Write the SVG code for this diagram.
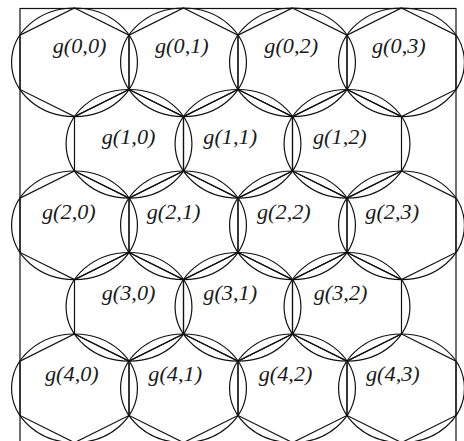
<svg xmlns="http://www.w3.org/2000/svg" xmlns:xlink="http://www.w3.org/1999/xlink" width="464" height="441" viewBox="0 0 464 441">
<style>
.sh{fill:none;stroke:#111;stroke-width:1.2}
.lb{font-family:"Liberation Serif","Times New Roman",serif;font-style:italic;font-size:21px;fill:#1a1a1a}
</style>
<defs>
<g id="cell">
<ellipse class="sh" cx="0" cy="0" rx="62.93" ry="54.3"/>
<polygon class="sh" points="0,-54.3 54.5,-27.15 54.5,27.15 0,54.3 -54.5,27.15 -54.5,-27.15"/>
</g>
</defs>
<rect width="464" height="441" fill="#fff"/>
<rect id="frame" class="sh" x="20" y="8.5" width="436" height="460"/>
<g id="g00"><use xlink:href="#cell" x="74.5" y="62.3"/><text class="lb" transform="translate(52.7,52.5) scale(1.06,1)">g(0,0)</text></g>
<g id="g01"><use xlink:href="#cell" x="183.5" y="62.3"/><text class="lb" transform="translate(155,52.5) scale(1.06,1)">g(0,1)</text></g>
<g id="g02"><use xlink:href="#cell" x="292.5" y="62.3"/><text class="lb" transform="translate(264.3,52.5) scale(1.06,1)">g(0,2)</text></g>
<g id="g03"><use xlink:href="#cell" x="401.5" y="62.3"/><text class="lb" transform="translate(372,52.5) scale(1.06,1)">g(0,3)</text></g>
<g id="g10"><use xlink:href="#cell" x="129" y="143.8"/><text class="lb" transform="translate(101.7,143.5) scale(1.06,1)">g(1,0)</text></g>
<g id="g11"><use xlink:href="#cell" x="238" y="143.8"/><text class="lb" transform="translate(203.3,143.5) scale(1.06,1)">g(1,1)</text></g>
<g id="g12"><use xlink:href="#cell" x="347" y="143.8"/><text class="lb" transform="translate(313,143.5) scale(1.06,1)">g(1,2)</text></g>
<g id="g20"><use xlink:href="#cell" x="74.5" y="225.3"/><text class="lb" transform="translate(42,218.5) scale(1.06,1)">g(2,0)</text></g>
<g id="g21"><use xlink:href="#cell" x="183.5" y="225.3"/><text class="lb" transform="translate(146.7,218.5) scale(1.06,1)">g(2,1)</text></g>
<g id="g22"><use xlink:href="#cell" x="292.5" y="225.3"/><text class="lb" transform="translate(257,218.5) scale(1.06,1)">g(2,2)</text></g>
<g id="g23"><use xlink:href="#cell" x="401.5" y="225.3"/><text class="lb" transform="translate(365.3,218.5) scale(1.06,1)">g(2,3)</text></g>
<g id="g30"><use xlink:href="#cell" x="129" y="306.8"/><text class="lb" transform="translate(101.7,300) scale(1.06,1)">g(3,0)</text></g>
<g id="g31"><use xlink:href="#cell" x="238" y="306.8"/><text class="lb" transform="translate(203.3,300) scale(1.06,1)">g(3,1)</text></g>
<g id="g32"><use xlink:href="#cell" x="347" y="306.8"/><text class="lb" transform="translate(313.7,300) scale(1.06,1)">g(3,2)</text></g>
<g id="g40"><use xlink:href="#cell" x="74.5" y="388.3"/><text class="lb" transform="translate(45,380.5) scale(1.06,1)">g(4,0)</text></g>
<g id="g41"><use xlink:href="#cell" x="183.5" y="388.3"/><text class="lb" transform="translate(148.3,380.5) scale(1.06,1)">g(4,1)</text></g>
<g id="g42"><use xlink:href="#cell" x="292.5" y="388.3"/><text class="lb" transform="translate(258.7,380.5) scale(1.06,1)">g(4,2)</text></g>
<g id="g43"><use xlink:href="#cell" x="401.5" y="388.3"/><text class="lb" transform="translate(366,380.5) scale(1.06,1)">g(4,3)</text></g>
<g id="connectors"/>
</svg>
